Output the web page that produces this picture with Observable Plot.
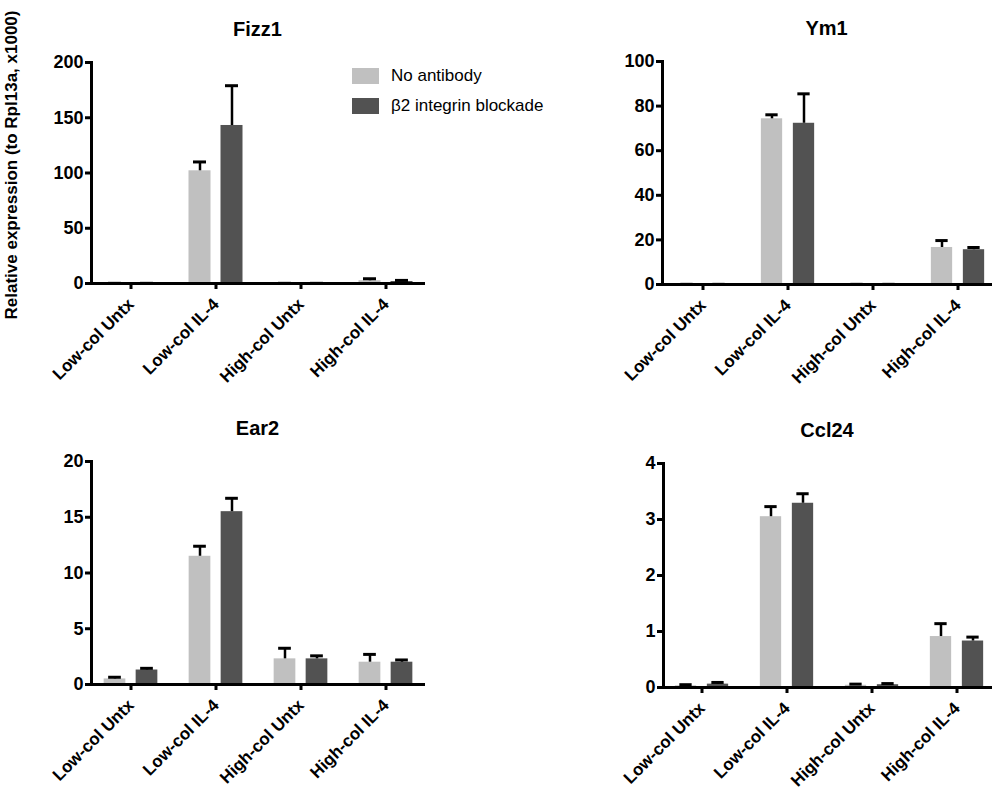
<!DOCTYPE html>
<html><head><meta charset="utf-8">
<script src="https://cdn.jsdelivr.net/npm/d3@7"></script>
<script src="https://cdn.jsdelivr.net/npm/@observablehq/plot@0.6"></script>
<style>
body{margin:0;background:#fff;}
#chart{position:relative;width:992px;height:789px;overflow:hidden;font-family:"Liberation Sans",Arial,Helvetica,sans-serif;color:#000;}
.panel{position:absolute;}
.ytitle{position:absolute;left:-188px;top:155px;width:400px;height:20px;line-height:20px;text-align:center;transform:rotate(-90deg);font-weight:bold;font-size:17px;white-space:nowrap;}
.legend{position:absolute;left:352px;top:68px;font-size:17px;}
.legend .item{display:flex;align-items:center;height:16px;margin-bottom:14px;}
.legend .sw{width:27px;height:16px;margin-right:12px;}
</style></head><body><div id="chart"></div>
<script>
const categories = ["Low-col Untx", "Low-col IL-4", "High-col Untx", "High-col IL-4"];
const seriesNames = ["No antibody", "β2 integrin blockade"];
const seriesColors = ["#c0c0c0", "#525252"];
const genes = ["Fizz1", "Ym1", "Ear2", "Ccl24"];

// means and SEM (upper error only)
const fizz1NoAb = [0.1, 102, 0.1, 2.5];
const fizz1NoAbSem = [0.05, 8, 0.05, 1.8];
const fizz1Block = [0.1, 143, 0.1, 1.8];
const fizz1BlockSem = [0.05, 36, 0.05, 1.0];

const ym1NoAb = [0.05, 74.3, 0.05, 16.6];
const ym1NoAbSem = [0.02, 1.8, 0.02, 3.1];
const ym1Block = [0.05, 72.3, 0.05, 15.6];
const ym1BlockSem = [0.02, 13.2, 0.02, 1.0];

const ear2NoAb = [0.5, 11.5, 2.3, 2.0];
const ear2NoAbSem = [0.15, 0.9, 0.95, 0.7];
const ear2Block = [1.3, 15.5, 2.3, 2.0];
const ear2BlockSem = [0.15, 1.2, 0.27, 0.2];

const ccl24NoAb = [0.03, 3.05, 0.04, 0.91];
const ccl24NoAbSem = [0.02, 0.18, 0.02, 0.23];
const ccl24Block = [0.06, 3.29, 0.05, 0.83];
const ccl24BlockSem = [0.03, 0.17, 0.02, 0.07];

const fizz1Ticks = [0, 50, 100, 150, 200];
const ym1Ticks = [0, 20, 40, 60, 80, 100];
const ear2Ticks = [0, 5, 10, 15, 20];
const ccl24Ticks = [0, 1, 2, 3, 4];

const yTitle = "Relative expression (to Rpl13a, x1000)";

const FONT = '"Liberation Sans", Arial, Helvetica, sans-serif';

const layout = [
  {gene: "Fizz1", left: 0, top: 0, height: 395, mTop: 62, mBottom: 112, mLeft: 91, mRight: 73, c0: 130, step: 85,
   data: [fizz1NoAb, fizz1NoAbSem, fizz1Block, fizz1BlockSem], ticks: fizz1Ticks},
  {gene: "Ym1", left: 496, top: 0, height: 395, mTop: 61, mBottom: 111, mLeft: 166, mRight: 2, c0: 205, step: 85.7,
   data: [ym1NoAb, ym1NoAbSem, ym1Block, ym1BlockSem], ticks: ym1Ticks},
  {gene: "Ear2", left: 0, top: 395, height: 394, mTop: 66, mBottom: 105, mLeft: 91, mRight: 73, c0: 130, step: 85.3,
   data: [ear2NoAb, ear2NoAbSem, ear2Block, ear2BlockSem], ticks: ear2Ticks},
  {gene: "Ccl24", left: 496, top: 395, height: 394, mTop: 68, mBottom: 102, mLeft: 167, mRight: 2, c0: 204, step: 85.7,
   data: [ccl24NoAb, ccl24NoAbSem, ccl24Block, ccl24BlockSem], ticks: ccl24Ticks}
];

function panel(cfg) {
  const [a, ae, b, be] = cfg.data;
  const rows = categories.map((c, i) => ({cat: c, a: a[i], ae: a[i] + ae[i], b: b[i], be: b[i] + be[i]}));
  const h = cfg.step / 2;
  const bw = 22, gap = 5, cap = 6.5;
  const ticks = cfg.ticks;
  return Plot.plot({
    width: 496, height: cfg.height,
    marginTop: cfg.mTop, marginBottom: cfg.mBottom, marginLeft: cfg.mLeft, marginRight: cfg.mRight,
    style: {fontFamily: FONT, background: "transparent", color: "#000", overflow: "visible"},
    x: {type: "band", domain: categories, range: [cfg.c0 - h, cfg.c0 + 3 * cfg.step + h], padding: 0},
    y: {domain: [0, ticks[ticks.length - 1]]},
    marks: [
      Plot.barY(rows, {x: "cat", y: "a", fill: seriesColors[0], insetLeft: h - gap - bw, insetRight: h + gap}),
      Plot.barY(rows, {x: "cat", y: "b", fill: seriesColors[1], insetLeft: h + gap, insetRight: h - gap - bw}),
      Plot.ruleX(rows, {x: "cat", y1: "a", y2: "ae", dx: -(gap + bw / 2), stroke: "#000", strokeWidth: 2.5}),
      Plot.ruleX(rows, {x: "cat", y1: "b", y2: "be", dx: (gap + bw / 2), stroke: "#000", strokeWidth: 2.5}),
      Plot.tickY(rows, {x: "cat", y: "ae", insetLeft: h - gap - bw / 2 - cap, insetRight: h + gap + bw / 2 - cap, stroke: "#000", strokeWidth: 3}),
      Plot.tickY(rows, {x: "cat", y: "be", insetLeft: h + gap + bw / 2 - cap, insetRight: h - gap - bw / 2 - cap, stroke: "#000", strokeWidth: 3}),
      Plot.axisY({ticks, tickFormat: d3.format("d"), tickSize: 6, strokeWidth: 3, fontSize: 18, fontWeight: "bold", tickPadding: 2, label: null}),
      Plot.axisX({tickSize: 6, strokeWidth: 3, tickRotate: -45, fontSize: 17, fontWeight: "bold", tickPadding: 12, label: null}),
      Plot.frame({anchor: "left", stroke: "#000", strokeWidth: 3}),
      Plot.frame({anchor: "bottom", stroke: "#000", strokeWidth: 3}),
      Plot.text([cfg.gene], {frameAnchor: "top", dy: -27, lineAnchor: "bottom", fontSize: 20, fontWeight: "bold"})
    ]
  });
}

const chart = document.getElementById("chart");
for (const cfg of layout) {
  const svg = panel(cfg);
  const wrap = document.createElement("div");
  wrap.className = "panel";
  wrap.style.left = cfg.left + "px";
  wrap.style.top = cfg.top + "px";
  wrap.appendChild(svg);
  chart.appendChild(wrap);
}

const yt = document.createElement("div");
yt.className = "ytitle";
yt.textContent = yTitle;
chart.appendChild(yt);

const legend = document.createElement("div");
legend.className = "legend";
seriesNames.forEach((name, i) => {
  const item = document.createElement("div");
  item.className = "item";
  const sw = document.createElement("div");
  sw.className = "sw";
  sw.style.background = seriesColors[i];
  const label = document.createElement("span");
  label.textContent = name;
  item.appendChild(sw);
  item.appendChild(label);
  legend.appendChild(item);
});
chart.appendChild(legend);
</script>
</body></html>
